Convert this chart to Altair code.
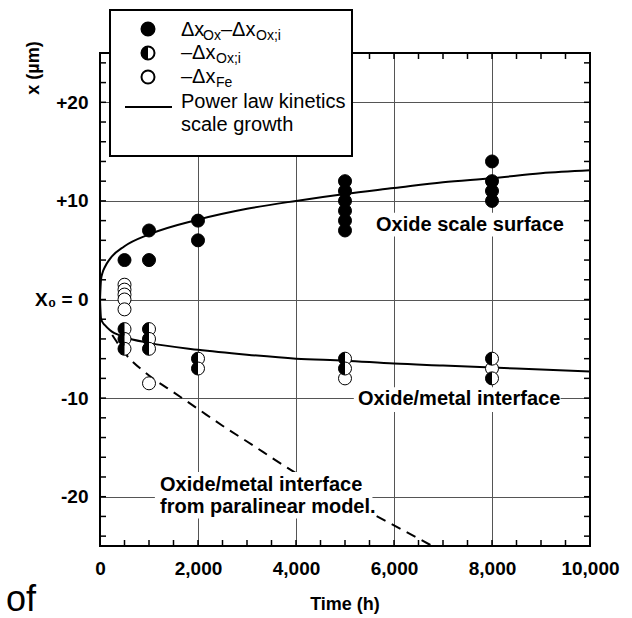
import altair as alt
import pandas as pd

W, H = 490, 493  # plot area in px

# ---- measured positions (µm) against exposure time (h) ----
surf_t = [500, 1000, 1000, 2000, 2000, 5000, 5000, 5000, 5000, 5000, 5000, 8000, 8000, 8000, 8000]
surf_x = [4, 4, 7, 6, 8, 7, 8, 9, 10, 11, 12, 10, 11, 12, 14]

inner_t = [500, 500, 500, 1000, 1000, 1000, 2000, 2000, 5000, 5000, 8000, 8000]
inner_x = [-3, -4, -5, -3, -4, -5, -6, -7, -6, -7, -6, -8]

fe_t = [500, 500, 500, 500, 500, 1000, 5000, 8000]
fe_x = [1.5, 1.0, 0.5, 0.0, -1.0, -8.5, -8.0, -7.0]

# ---- power-law scale growth curves ----
fit_t = [0, 20, 50, 100, 200, 500, 1000, 2000, 3000, 4000, 5000, 6000, 7000, 8000, 9000, 10000]
fit_surface = [0, 2.0, 2.7, 3.3, 4.1, 5.4, 6.6, 8.1, 9.2, 10.0, 10.7, 11.3, 11.9, 12.3, 12.8, 13.1]
fit_interface = [0, -1.9, -2.3, -2.6, -3.1, -3.8, -4.4, -5.1, -5.6, -6.0, -6.2, -6.5, -6.7, -6.9, -7.1, -7.3]

# ---- paralinear model of the oxide/metal interface ----
para_t = [250, 500, 1000, 1500, 2000, 2500, 3000, 4000, 5000, 6000, 7000]
para_x = [-3.6, -5.4, -7.7, -9.4, -11.1, -12.8, -14.4, -17.6, -20.3, -22.9, -25.6]

x_labels = [0, 2000, 4000, 6000, 8000, 10000]
y_labels = [-20, -10, 0, 10, 20]
x_minor = list(range(500, 10000, 500))
y_minor = list(range(-24, 25, 2))

FONT = "Liberation Sans"
HALF = "M0,-1 A1,1 0 0 0 0,1 Z"  # left half of a unit circle
MSIZE = 169

xs = alt.Scale(domain=[0, 10000], nice=False, zero=False)
ys = alt.Scale(domain=[-25, 25], nice=False, zero=False)

x_axis = alt.Axis(values=x_labels, grid=True, ticks=False, domain=False, labelFlush=False,
                  labelOverlap=False, labelBound=False,
                  labelExpr="format(datum.value, ',.0f')",
                  labelFont=FONT, labelFontSize=19, labelFontWeight="bold",
                  labelColor="black", labelPadding=13, title=None,
                  gridColor="#555555", gridWidth=1)
y_axis = alt.Axis(values=y_labels, grid=True, ticks=False, domain=False, labelFlush=False,
                  labelOverlap=False,
                  labelExpr="datum.value > 0 ? '+' + datum.value : (datum.value == 0 ? 'X\u2080 = 0' : '' + datum.value)",
                  labelFont=FONT, labelFontSize=19, labelFontWeight="bold",
                  labelColor="black", labelPadding=12, title=None,
                  gridColor="#555555", gridWidth=1)

fit_df = pd.DataFrame({
    "t": fit_t + fit_t,
    "x": fit_surface + fit_interface,
    "branch": ["surface"] * len(fit_t) + ["interface"] * len(fit_t),
})
para_df = pd.DataFrame({"t": para_t, "x": para_x})

surf_df = pd.DataFrame({"t": surf_t, "x": surf_x})
inner_df = pd.DataFrame({"t": inner_t, "x": inner_x})
fe_df = pd.DataFrame({"t": fe_t, "x": fe_x})

# curves
fit = alt.Chart(fit_df).mark_line(color="black", strokeWidth=2, interpolate="monotone").encode(
    x=alt.X("t:Q", scale=xs, axis=x_axis),
    y=alt.Y("x:Q", scale=ys, axis=y_axis),
    detail="branch:N",
)
para = alt.Chart(para_df).mark_line(color="black", strokeWidth=2, strokeDash=[10, 7],
                                     clip=True, interpolate="monotone").encode(
    x=alt.X("t:Q", scale=xs), y=alt.Y("x:Q", scale=ys))

# annotations with white backing
notes = pd.DataFrame({
    "t": [5633, 5265, 1224, 1224],
    "x": [7.6, -10.1, -18.8, -21.0],
    "label": ["Oxide scale surface", "Oxide/metal interface",
              "Oxide/metal interface", "from paralinear model."],
})
boxes = pd.DataFrame({
    "t1": [5560, 5180, 1120],
    "t2": [9480, 9400, 5560],
    "y1": [6.4, -8.9, -17.5],
    "y2": [8.8, -11.4, -22.2],
})
box_layer = alt.Chart(boxes).mark_rect(fill="white").encode(
    x=alt.X("t1:Q", scale=xs), x2="t2:Q",
    y=alt.Y("y1:Q", scale=ys), y2="y2:Q")
note_layer = alt.Chart(notes).mark_text(align="left", baseline="middle", font=FONT,
                                        fontSize=20, fontWeight="bold", color="black").encode(
    x=alt.X("t:Q", scale=xs), y=alt.Y("x:Q", scale=ys), text="label:N")

# inward ticks on all four sides
xt = pd.DataFrame({"t": x_minor})
yt = pd.DataFrame({"v": y_minor})
tick_style = dict(color="black", strokeWidth=1.5)
xt_bottom = alt.Chart(xt).mark_rule(**tick_style).encode(
    x=alt.X("t:Q", scale=xs), y=alt.value(H), y2=alt.value(H - 6))
xt_top = alt.Chart(xt).mark_rule(**tick_style).encode(
    x=alt.X("t:Q", scale=xs), y=alt.value(0), y2=alt.value(6))
yt_left = alt.Chart(yt).mark_rule(**tick_style).encode(
    y=alt.Y("v:Q", scale=ys), x=alt.value(0), x2=alt.value(6))
yt_right = alt.Chart(yt).mark_rule(**tick_style).encode(
    y=alt.Y("v:Q", scale=ys), x=alt.value(W), x2=alt.value(W - 6))

one = pd.DataFrame({"k": [0]})
frame = alt.Chart(one).mark_rect(fillOpacity=0, stroke="black", strokeWidth=2).encode(
    x=alt.value(0), x2=alt.value(W), y=alt.value(0), y2=alt.value(H))

# measured points
open_pts = alt.Chart(fe_df).mark_point(shape="circle", filled=True, fill="white", stroke="black",
                                       strokeWidth=1, size=MSIZE, opacity=1).encode(
    x=alt.X("t:Q", scale=xs), y=alt.Y("x:Q", scale=ys))
half_bg = alt.Chart(inner_df).mark_point(shape="circle", filled=True, fill="white", stroke="black",
                                         strokeWidth=1, size=MSIZE, opacity=1).encode(
    x=alt.X("t:Q", scale=xs), y=alt.Y("x:Q", scale=ys))
half_fg = alt.Chart(inner_df).mark_point(shape=HALF, filled=True, fill="black", strokeWidth=0,
                                         size=MSIZE, opacity=1).encode(
    x=alt.X("t:Q", scale=xs), y=alt.Y("x:Q", scale=ys))
full_pts = alt.Chart(surf_df).mark_point(shape="circle", filled=True, fill="black", stroke="black",
                                         strokeWidth=1, size=MSIZE, opacity=1).encode(
    x=alt.X("t:Q", scale=xs), y=alt.Y("x:Q", scale=ys))


# pixel-positioned pieces (legend, titles)
def px(field):
    return alt.X(f"{field}:Q", scale=None, axis=None)


def py(field):
    return alt.Y(f"{field}:Q", scale=None, axis=None)


leg_box = alt.Chart(one).mark_rect(fill="white", stroke="black", strokeWidth=2).encode(
    x=alt.value(10), x2=alt.value(252), y=alt.value(-43), y2=alt.value(103))
leg_line = alt.Chart(one).mark_rule(color="black", strokeWidth=2).encode(
    x=alt.value(25), x2=alt.value(72), y=alt.value(54))

sym = pd.DataFrame({"sx": [48, 48, 48], "sy": [-24, 0, 24], "kind": ["full", "half", "open"]})
leg_full = alt.Chart(sym[sym.kind == "full"]).mark_point(shape="circle", filled=True, fill="black",
                                                          stroke="black", size=MSIZE, opacity=1).encode(
    x=px("sx"), y=py("sy"))
leg_half_bg = alt.Chart(sym[sym.kind == "half"]).mark_point(shape="circle", filled=True, fill="white",
                                                             stroke="black", size=MSIZE, opacity=1).encode(
    x=px("sx"), y=py("sy"))
leg_half_fg = alt.Chart(sym[sym.kind == "half"]).mark_point(shape=HALF, filled=True, fill="black",
                                                             strokeWidth=0, size=MSIZE, opacity=1).encode(
    x=px("sx"), y=py("sy"))
leg_open = alt.Chart(sym[sym.kind == "open"]).mark_point(shape="circle", filled=True, fill="white",
                                                          stroke="black", size=MSIZE, opacity=1).encode(
    x=px("sx"), y=py("sy"))

leg_text = pd.DataFrame({
    "tx": [81, 103, 121, 156, 81, 116, 81, 116, 81, 81],
    "ty": [-23, -17, -23, -17, 0, 6, 24, 30, 49, 72],
    "fs": [20, 14, 20, 14, 20, 14, 20, 14, 20, 20],
    "txt": ["\u0394x", "Ox", "\u2013\u0394x", "Ox;i",
            "\u2013\u0394x", "Ox;i",
            "\u2013\u0394x", "Fe",
            "Power law kinetics", "scale growth"],
})
leg_labels = alt.Chart(leg_text).mark_text(align="left", baseline="middle", font=FONT,
                                           color="black").encode(
    x=px("tx"), y=py("ty"), text="txt:N", size=alt.Size("fs:Q", scale=None, legend=None))

# axis titles and the stray caption fragment
x_title = alt.Chart(pd.DataFrame({"tx": [245], "ty": [552], "txt": ["Time (h)"]})).mark_text(
    align="center", baseline="middle", font=FONT, fontSize=18, fontWeight="bold",
    color="black").encode(x=px("tx"), y=py("ty"), text="txt:N")
y_title = alt.Chart(pd.DataFrame({"tx": [-66], "ty": [15], "txt": ["x (\u00b5m)"]})).mark_text(
    align="center", baseline="middle", font=FONT, fontSize=18, fontWeight="bold",
    color="black", angle=270).encode(x=px("tx"), y=py("ty"), text="txt:N")
stray = alt.Chart(pd.DataFrame({"tx": [-94], "ty": [558], "txt": ["of"]})).mark_text(
    align="left", baseline="alphabetic", font=FONT, fontSize=36, color="black").encode(
    x=px("tx"), y=py("ty"), text="txt:N")

chart = alt.layer(
    fit, para, box_layer, note_layer,
    xt_bottom, xt_top, yt_left, yt_right, frame,
    open_pts, half_bg, half_fg, full_pts,
    leg_box, leg_line, leg_full, leg_half_bg, leg_half_fg, leg_open, leg_labels,
    x_title, y_title, stray,
).properties(
    width=W, height=H,
    autosize=alt.AutoSizeParams(type="none"),
    padding={"left": 100, "top": 53, "right": 42, "bottom": 72},
).configure_view(stroke=None)

chart.save("out.html", embed_options={"renderer": "svg", "actions": False})
